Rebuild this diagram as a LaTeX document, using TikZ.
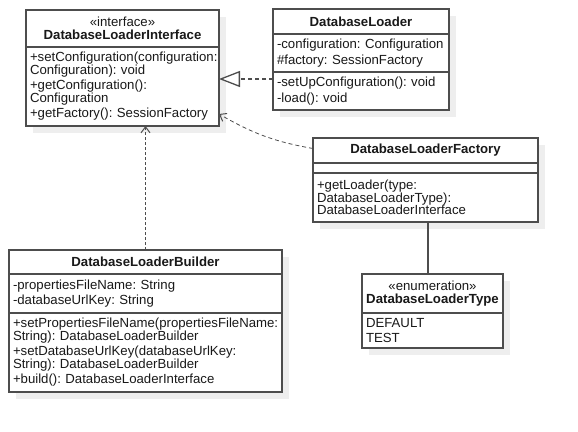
\documentclass[tikz,border=0pt]{standalone}
\usepackage{fontspec}
\setmainfont{Liberation Sans}
\usepackage{tikz}
\usetikzlibrary{arrows.meta}
\usetikzlibrary{positioning}
\usetikzlibrary{fit,backgrounds}
\definecolor{umlline}{HTML}{4D4D4D}
\definecolor{umlshade}{HTML}{EEEEEE}
\newcommand{\itm}{\\[3pt]}
\frenchspacing

\begin{document}
\begin{tikzpicture}[x=1pt,y=-1pt,
			class part/.style={draw=umlline,fill=white,line width=1.3pt,outer sep=0pt,
				inner xsep=4pt,inner ysep=0pt,text=black!90,
				font=\fontsize{13.2}{12.5}\selectfont\frenchspacing},
			class head/.style 2 args={class part,align=center,minimum width=#1,minimum height=#2},
			class body/.style 2 args={class part,align=left,minimum width=#1,text width=#1-8pt,minimum height=#2},
			shade box/.style={fill=umlshade,inner sep=0pt,xshift=7pt,yshift=-7pt},
			realize/.style={umlline,line width=1.3pt,dash pattern=on 4pt off 3pt,
				-{Triangle[open,length=21pt,width=16pt,fill=white]}},
			depend/.style={umlline,dash pattern=on 3pt off 2pt,
				-{Straight Barb[length=6pt,width=9pt,line width=1pt]}},
			assoc/.style={umlline,line width=1.3pt}]
			
			\useasboundingbox (0,0) rectangle (578,431);
			
			% DatabaseLoaderInterface
			\node[class head={193pt}{37pt},anchor=north west] (IH) at (26,10)
				{«interface»\\\textbf{DatabaseLoaderInterface}};
			\node[class body={193pt}{79pt}] (IO) [below=0pt of IH]
				{+setConfiguration(configuration:\\Configuration): void\itm
				+getConfiguration():\\Configuration\itm
				+getFactory(): SessionFactory};
			
			% DatabaseLoader
			\node[class head={176pt}{25pt},anchor=north west] (LH) at (273,9)
				{\textbf{DatabaseLoader}};
			\node[class body={176pt}{38pt}] (LA) [below=0pt of LH]
				{-configuration: Configuration\itm\#factory: SessionFactory};
			\node[class body={176pt}{38pt}] (LO) [below=0pt of LA]
				{-setUpConfiguration(): void\itm-load(): void};
			
			% DatabaseLoaderFactory
			\node[class head={225pt}{25pt},anchor=north west] (FH) at (313,138)
				{\textbf{DatabaseLoaderFactory}};
			\node[class body={225pt}{10pt}] (FA) [below=0pt of FH] {};
			\node[class body={225pt}{49pt}] (FO) [below=0pt of FA]
				{+getLoader(type:\\DatabaseLoaderType):\\DatabaseLoaderInterface};
			
			% DatabaseLoaderBuilder
			\node[class head={273pt}{24pt},anchor=north west] (BH) at (9,250)
				{\textbf{DatabaseLoaderBuilder}};
			\node[class body={273pt}{39pt}] (BA) [below=0pt of BH]
				{-propertiesFileName: String\itm-databaseUrlKey: String};
			\node[class body={273pt}{79pt}] (BO) [below=0pt of BA]
				{+setPropertiesFileName(propertiesFileName:\\String): DatabaseLoaderBuilder\itm
				+setDatabaseUrlKey(databaseUrlKey:\\String): DatabaseLoaderBuilder\itm
				+build(): DatabaseLoaderInterface};
			
			% DatabaseLoaderType
			\node[class head={141pt}{39pt},anchor=north west] (TH) at (362,274)
				{«enumeration»\\\textbf{DatabaseLoaderType}};
			\node[class body={141pt}{35pt}] (TL) [below=0pt of TH]
				{DEFAULT\itm TEST};
			
			% shadows
			\begin{scope}[on background layer]
				\node[shade box,fit=(IH)(IO)] {};
				\node[shade box,fit=(LH)(LO)] {};
				\node[shade box,fit=(FH)(FO)] {};
				\node[shade box,fit=(BH)(BO)] {};
				\node[shade box,fit=(TH)(TL)] {};
			\end{scope}
			
			\path
			([yshift=12pt]LO.west) edge[realize] ([yshift=7.5pt]IO.east)
			(BH.north) edge[depend,line width=1.3pt] (BH.north |- IO.south)
			([yshift=2pt]FH.west) edge[depend,line width=0.8pt,dash pattern=on 4pt off 3pt,
				out=170,in=-30] ([yshift=12pt]IO.south east)
			([xshift=2.5pt]FO.south) edge[assoc] ([xshift=-4.5pt]TH.north);
		\end{tikzpicture}
\end{document}
